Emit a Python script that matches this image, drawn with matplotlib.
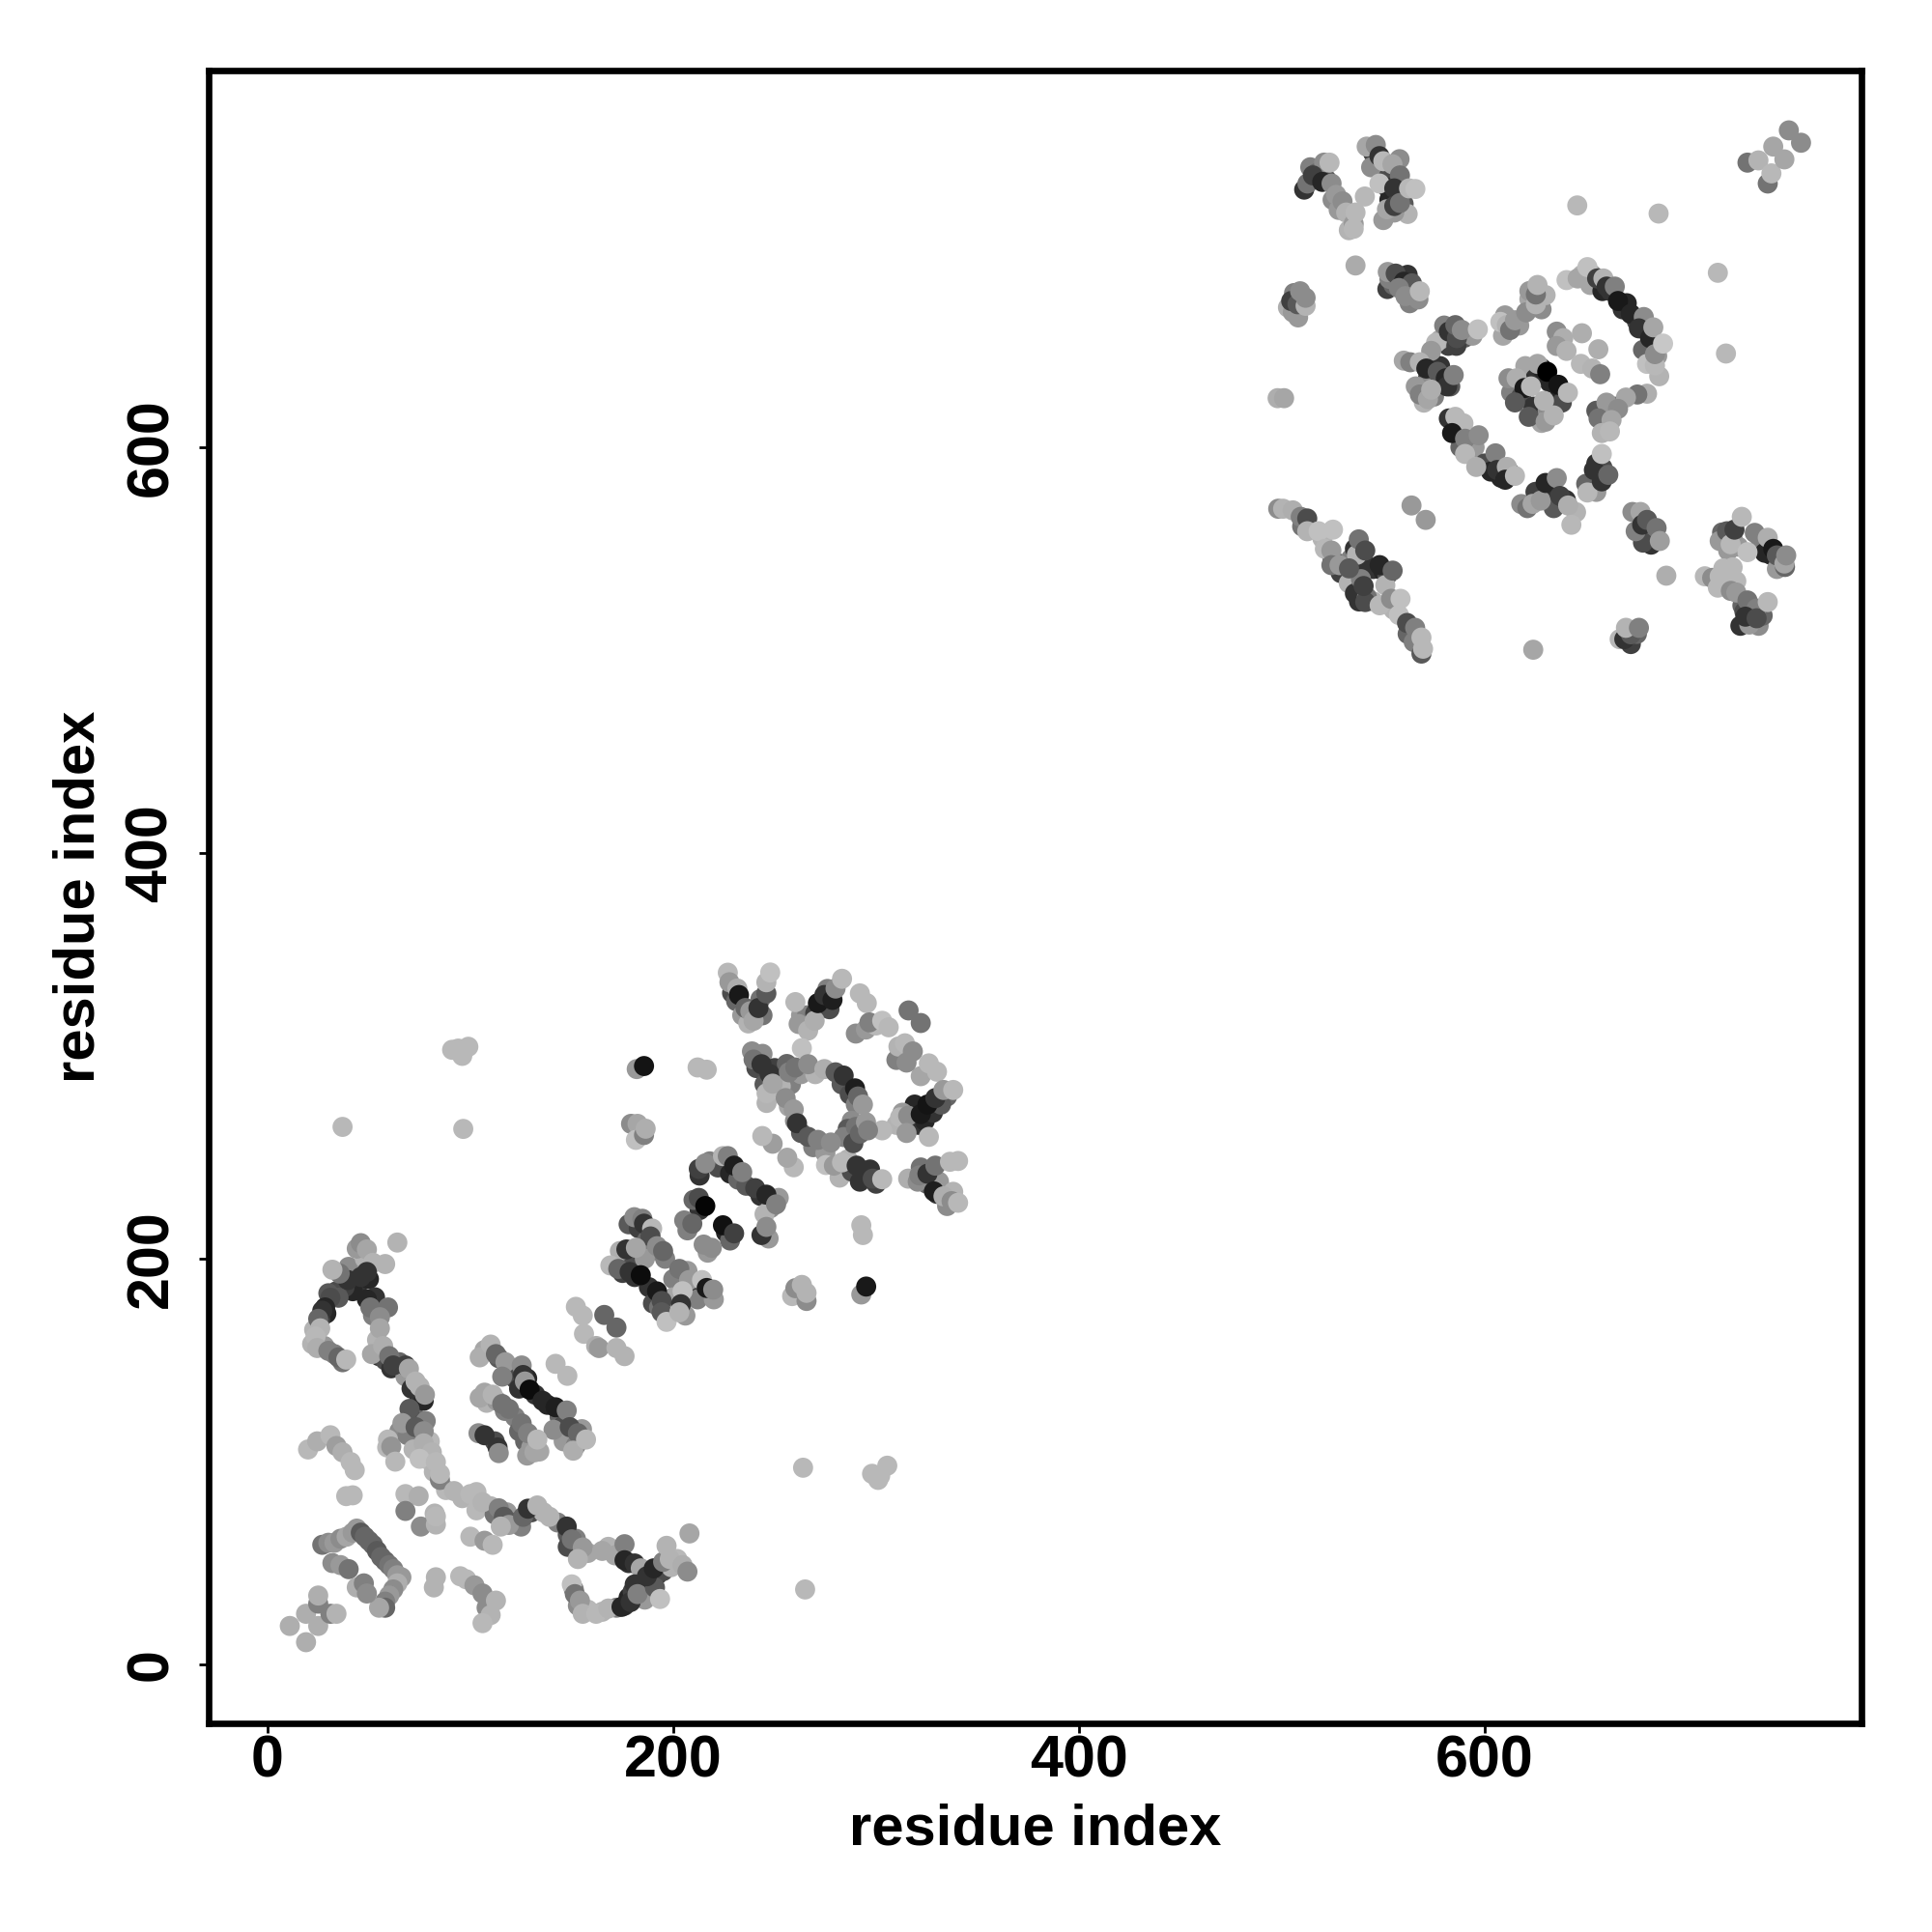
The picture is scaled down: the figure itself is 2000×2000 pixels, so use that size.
import numpy as np
import matplotlib
matplotlib.use("Agg")
import matplotlib.pyplot as plt

plt.rcParams['font.family'] = ['Liberation Sans', 'DejaVu Sans']

# contacts: (residue i, residue j, grey level)
# under_* = the dots mostly hidden below the visible ones
under_low = [(45,188,.2),(42,184,.15),(38,186,.25),(34,184,.3),(30,183,.35),(29,173,.15),(26,170,.25),(23,165,.7),
    (22,158,.7),(28,157,.6),(33,153,.5),(37,149,.45),(40,196,.55),(48,200,.7),(44,205,.6),(50,190,.15),(53,181,.2),
    (52,172,.5),(54,160,.7),(55,152,.2),(58,150,.3),(61,146,.2),(65,149,.4),(68,142,.6),(71,136,.2),(75,131,.2),
    (75,137,.7),(72,123,.4),(65,115,.55),(69,113,.5),(71,121,.3),(78,120,.5),(72,106,.7),(79,101,.72),(80,110,.72),
    (82,95,.7),(88,86,.72),(96,82,.7),(103,85,.72),(110,78,.7),(103,76,.72),(112,74,.45),(118,75,.6),(122,70,.4),
    (125,68,.5),(130,75,.3),(136,75,.7),(143,70,.5),(148,64,.35),(148,58,.3),(152,62,.5),(158,55,.65),(168,58,.7),
    (174,55,.6),(178,50,.2)]
under_loop = [(151,37,.5),(153,29,.55),(158,27,.72),(165,26,.7),(172,28,.5),(176,29,.2),(178,33,.15),(180,36,.25),
    (184,37,.3),(186,32,.6),(186,40,.3),(188,42,.15),(192,44,.2),(195,46,.3),(199,48,.7),(202,52,.72)]
under_sheet = [(107,155,.65),(114,151,.35),(119,146,.35),(122,141,.3),(124,136,.2),(128,141,.15),(132,133,.2),
    (138,128,.15),(144,122,.4),(146,118,.3),(151,112,.35),(148,111,.4),(155,116,.6),(146,110,.6),(152,108,.5),
    (107,134,.65),(108,129,.7),(113,130,.6),(117,125,.5),(122,122,.5),(124,115,.4),(127,110,.4),(130,107,.6),
    (134,105,.65),(128,103,.6),(112,110,.3)]
under_block = [(178,217,.35),(183,215,.25),(187,209,.4),(190,204,.5),(176,200,.4),(180,198,.3),(186,200,.6),(196,200,.5),
    (175,193,.25),(181,191,.2),(188,186,.2),(190,178,.3),(193,176,.45),(200,190,.5),(206,182,.6),(200,181,.65),
    (210,185,.2),(206,172,.6),(212,180,.5),(207,194,.6),(220,180,.6),(213,224,.2),(210,229,.4),(207,214,.5),
    (226,213,.15),(228,209,.4),(217,203,.6),(247,210,.6),(213,241,.2),(218,248,.5),(222,245,.3),(228,242,.15),
    (232,239,.4),(236,236,.35),(243,231,.2),(248,225,.55),(245,222,.7),(252,230,.6)]
under_ring = [(229,331,.3),(231,327,.4),(234,320,.6),(237,316,.7),(243,328,.45),(244,320,.45),(263,320,.6),(266,320,.5),
    (270,321,.25),(273,324,.15),(276,333,.5),(277,323,.3),(290,311,.55),(295,313,.6),(300,315,.72),(310,298,.5),
    (322,290,.65),(319,276,.15),(321,266,.2),(324,268,.15),(328,272,.2),(335,280,.4),(332,276,.35),(310,266,.7),
    (313,272,.6),(241,294,.3),(244,301,.55),(245,286,.35),(250,294,.25),(253,288,.55),(256,296,.4),(258,286,.5),
    (263,291,.6),(270,291,.7),(283,286,.35),(287,281,.3),(290,276,.5),(288,268,.55),(286,264,.35),(284,260,.5),
    (290,265,.45),(253,285,.7),(257,275,.65),(260,268,.55),(263,262,.35),(269,255,.5),(275,252,.6),(282,240,.7),
    (286,249,.7),(288,243,.3),(292,238,.2),(297,244,.2),(300,237,.25),(322,245,.45),(325,237,.4),(330,232,.2),
    (331,238,.6),(335,226,.55),(338,233,.7)]
under_high = [(511,727,.2),(514,738,.5),(517,735,.4),(522,732,.3),(525,722,.55),(528,717,.6),(533,707,.7),(545,745,.25),
    (550,735,.3),(552,728,.2),(553,722,.15),(550,712,.6),(560,720,.35),(562,715,.7),(544,738,.55),(558,742,.55),
    (552,678,.25),(555,680,.4),(562,685,.2),(565,676,.35),(563,671,.5),(553,683,.5),(506,676,.5),(508,664,.6),
    (510,672,.4),(575,641,.5),(572,634,.3),(578,632,.3),(570,630,.55),(566,630,.6),(575,625,.5),(570,622,.7),
    (578,640,.2),(583,630,.35),(582,650,.25),(578,653,.65),(590,654,.35),(580,660,.5),(586,650,.25),(594,655,.6),
    (609,655,.65),(617,660,.6),(622,673,.65),(628,668,.55),(630,675,.7),(622,677,.6),(610,665,.6),(648,685,.7),
    (653,685,.6),(652,680,.65),(658,677,.15),(662,677,.2),(668,668,.2),(670,671,.15),(675,662,.3),(680,660,.3),
    (682,649,.1),(685,645,.6),(678,648,.4),(686,635,.7),(620,640,.65),(625,634,.2),(632,632,.15),(628,639,.15),
    (637,626,.15),(613,627,.5),(618,625,.3),(624,620,.2),(631,618,.55),(628,612,.65),(638,622,.3)]
under_arc = [(595,600,.6),(600,592,.3),(603,588,.15),(608,585,.15),(612,588,.2),(618,572,.55),(621,570,.45),(625,578,.25),
    (632,580,.2),(634,570,.35),(640,574,.2),(645,568,.7),(655,592,.2),(658,590,.3),(650,582,.4),(655,578,.6),(660,611,.5),
    (655,618,.35),(664,620,.4),(660,622,.6),(587,606,.15),(585,610,.2),(588,600,.4),(510,561,.45),(520,555,.7),(525,545,.35),
    (529,538,.25),(533,533,.7),(534,545,.5),(536,550,.2),(540,544,.2),(537,547,.7),(545,540,.2),(550,539,.15),(552,537,.3),
    (536,528,.2),(538,524,.2),(539,535,.5),(545,524,.7),(551,532,.7),(555,520,.7),(562,508,.4),(565,504,.5),(672,503,.25),
    (675,508,.4),(677,566,.2),(679,558,.25),(683,556,.4),(682,552,.2),(678,553,.3),(717,558,.4),(720,549,.6),(722,555,.2),
    (725,551,.6),(736,552,.5),(738,548,.15),(741,547,.15),(745,543,.2),(744,540,.6),(748,541,.4),(724,534,.72),(727,522,.4),
    (732,518,.15),(731,516,.25),(735,512,.55),(726,512,.2),(728,519,.3),(737,517,.4)]

corner_low = [(11,19,.68),(19,11,.68),(19,25,.68),(25,19,.68),(25,30,.5),(25,34,.68),(31,25,.5),(34,25,.7)]
hairpin_low = [(27,59,.45),(30,60,.55),(33,60,.6),(36,62,.55),(39,63,.65),(42,65,.6),(44,67,.6),(46,65,.35),
    (48,63,.4),(50,61,.4),(52,59,.4),(54,56,.35),(56,53,.4),(58,51,.4),(60,49,.45),(62,47,.5),(64,44,.6),
    (66,43,.6),(64,40,.68),(62,37,.55),(60,34,.6),(58,31,.5),(58,28,.4),(55,28,.65),
    (32,50,.55),(36,49,.6),(40,47,.45),(44,38,.68),(47.5,40,.5),(49,35,.55)]
side_low = [(83,43,.7),(82,38,.7),(95,43.5,.72),(98,42,.72),(102,39,.6),(106,35,.55),(108,28,.55),
    (112.6,31.5,.7),(110,24.4,.7),(106,20.4,.72)]
hook_left = [(46,207.7,.55),(49,204.6,.65),(52,198,.7),(58,197.4,.7),(64,208,.7),(49,193.5,.2),(46,191,.2),
    (39.6,189.5,.2),(35.6,192.7,.45),(32,194.6,.7),(35,180.8,.35),(31,180.8,.3),(28.4,176,.15),(27,174.4,.2),
    (25,170.4,.4),(26,165.7,.7),(23.7,161.7,.72),(24.5,156,.68),(30,154.6,.5),(35,151.4,.4),(38.8,150.3,.72)]
long_strand = [(49,180,.15),(50.7,176,.45),(59.4,176,.45),(55.4,171.2,.55),(55.4,165.7,.65),(51.5,153,.65),
    (57,157,.68),(60,152,.45),(62,147.4,.25),(68,147.4,.25),(69.7,145.8,.65),(73,139.5,.7),(77,130,.15),
    (77.6,133,.6),(70,126,.35),(66.5,119,.6),(73,117,.35),(77,115,.55),(77,109,.68),(81,104.6,.7),
    (75,101.4,.75),(83,99.8,.72),(85,91,.5),(85,94,.72),(92,85.5,.7),(100,84,.72),(106,80,.7),(114,77,.5),
    (116.5,72.8,.35),(119,68.8,.6),(115,68,.7),(126,72.8,.4),(128.4,76.8,.2),(133,78.4,.7),(139,72.8,.7),
    (147.5,68,.2),(150,61.7,.45),(155.4,57.7,.6),(153,52,.7),(165,56,.65),(171.3,53.8,.65),(176,59.3,.5),
    (176,51.4,.15),(181,49.8,.2),(184,47.4,.65)]
light_bits = [(20,106,.72),(24.5,110,.68),(31,113,.72),(34,107.7,.62),(37,104.6,.68),(41,99.8,.72),(43,95.8,.72),
    (38.8,83,.72),(42,83.4,.72),(59.4,110.9,.72),(59,107,.72),(61,107.4,.58),(63,100,.72),(68,84,.72),
    (74.5,83,.68),(68,75.7,.5),(82.4,74.4,.7),(75.6,68,.55),(83,69,.7),(83,73,.72),(100,63,.72),(107,61,.6),
    (111,59,.72)]
loop_low = [(150,39.5,.75),(151.5,34.7,.45),(154,31.5,.6),(155.4,25,.7),(162,25,.72),(168,27.6,.7),(174.5,28.4,.15),
    (179,30.8,.2),(181,39.5,.2),(182.4,34.7,.5),(191,37.9,.35),(187,43.5,.2),(190.4,47.4,.15),(195,50.6,.5),
    (193.5,32.3,.75),(196.7,58.5,.7),(198.3,52,.7),(204.6,49,.68),(207,45.8,.55),(208,64.6,.65)]
sheet_a = [(104.6,151.4,.68),(110,157.7,.7),(112.6,153,.4),(117.3,149,.6),(125.3,147.4,.55),(115.7,141.9,.5),
    (126,142.7,.2),(126.9,139.5,.6),(129.2,135.5,.05),(135.6,130,.15),(142,126.8,.12),(147.5,125.2,.5),
    (141,115.7,.55),(149,117,.3),(153,114,.4),(150.7,105.4,.68),(157,110.9,.72)]
sheet_b = [(104.6,131.5,.65),(111,133,.7),(115.7,128.4,.45),(119,126,.45),(125.3,118.8,.45),(128.4,114,.5),
    (131.6,104.6,.65),(133,110.9,.72)]
sheet_c = [(104,114,.55),(107,113,.2),(113.4,107,.2),(114,104.2,.55),(142,148.2,.72),(147.8,142.3,.72)]
sheet_d = [(152,176.3,.72),(155.4,172,.72),(166,172.3,.4),(172,166.1,.4),(156,163,.72),(162,157,.68),
    (163.4,156,.6),(172,156,.7),(176,152,.7)]
block_mid = [(180.8,220.5,.55),(184.8,219.7,.5),(185.6,217.3,.2),(189.6,214.9,.72),(188.8,211,.3),(192,206.2,.55),
    (195,203.8,.4),(173.7,203.8,.68),(176.9,204.6,.2),(181.6,205.4,.65),(169,196.7,.72),(172.9,195,.4),
    (178.5,193.5,.2),(184,191.9,.05),(192,183.9,.1),(194.3,179.2,.3),(194.3,173.6,.35),(196.7,168.9,.75),
    (203,195,.45),(207.8,189.5,.6),(204.6,184,.75),(203.8,177.6,.2),(203,173.6,.7),(214.2,189.5,.75),
    (216.5,185.6,.1),(219.7,184.8,.55)]
block_dark = [(212.6,230,.3),(215.8,226,.02),(205.4,218.9,.5),(209.4,217.3,.4),(224.5,216.5,.07),(230,212.5,.25),
    (215,207,.55),(219,205.4,.55),(243.5,211.7,.2),(245.9,215.7,.55),(212.6,244.3,.25),(215.8,247,.55),
    (224.5,250.6,.7),(226.9,250.6,.5),(230,245.9,.12),(234,242.7,.5),(240.4,234.8,.25),(245.9,231.6,.15),
    (250.7,226.8,.5)]
scatter_mid = [(258.6,181.6,.72),(260.2,185.5,.55),(263.4,187.1,.7),(265.7,179.2,.55),(265.7,183.2,.7),
    (292.7,182.4,.6),(295.1,186.3,.1),(292.7,216.5,.72),(293.5,211.7,.72),(259.4,245.1,.72),(256.2,249.8,.65),
    (249,256.7,.62),(243.9,260.5,.72),(182,293.5,.6),(185.6,295,.08),(212,294.3,.72),(216.5,293.2,.72),
    (179.2,266.5,.55),(182.4,266.5,.65),(181.6,258.6,.75),(185.6,261,.5),(186.4,264.1,.68),
    (94,303.6,.72),(91,303,.72),(96,300,.72),(99,304.5,.72),(37,265,.72),(96.5,264,.72),(264,97,.72),(265,37,.72),
    (302,93,.72),(305.5,98,.72),(301,91,.72),(298,94,.72)]
vee_mid = [(226.9,341,.72),(227.7,336.3,.6),(231.6,333.2,.68),(232.4,330,.1),(235.6,323.6,.4),(238,322,.6),
    (239.6,317.3,.65),(242,323.6,.2),(245.9,330.8,.35),(245.9,336.3,.7),(247.8,341.1,.75)]
strand_mid = [(260.2,326.5,.72),(261.8,315.7,.6),(266.5,312.5,.7),(269.7,317.3,.68),(271.3,326,.1),(274.5,330,.2),
    (278.5,327.6,.12),(280,333.2,.55),(283.2,338,.72),(292,330.8,.72),(295.4,326,.72),(296.7,316.5,.5),
    (303,317.3,.75),(306.2,314.1,.72),(316,322.4,.45),(322,316.2,.45),(311,304.6,.7),(314.2,306.2,.72),
    (315,296.7,.55),(318.1,302.2,.55),(326,296.3,.72),(330,292.2,.72)]
arrow_mid = [(311.8,269.7,.72),(315.8,270.5,.55),(315,262,.6),(322,271.3,.1),(325.3,276,.08),(329.2,279.2,.2),
    (333.2,283.2,.6),(338,283.2,.72),(326,260.1,.72),(303,263.3,.72)]
ring_mid = [(238.8,302.2,.55),(239.6,298.2,.45),(243.5,295.9,.2),(247.5,291.1,.2),(246,276.8,.7),(246,281.6,.72),
    (249,286.3,.65),(257,291.9,.5),(260.2,294.3,.45),(263.4,303.8,.75),(266.5,295.9,.55),(274.5,293.5,.68),
    (280,291.9,.35),(284,290.3,.2),(289.6,284,.12),(291.1,280,.4),(293.5,276,.6),(288.8,257,.3),(292,261.7,.4),
    (295,267.3,.6),(296,263.3,.5),(255.4,279.2,.55),(259.4,273.6,.6),(261,266.8,.2),(266.5,260.1,.35),
    (271.3,258.6,.5),(277.7,257.3,.55)]
foot_mid = [(275.3,246.2,.75),(279.2,245.9,.6),(283.2,247.5,.72),(290.4,245.9,.2),(295.1,241.9,.2),(298.3,239.5,.3),
    (303,239.2,.72),(315.8,239.5,.68),(320.5,238,.55),(321.3,241.1,.5),(325.3,241.9,.2),(329.2,245.9,.45),
    (336.4,247.8,.72),(340.4,248.2,.72),(328.5,233.2,.12),(333.2,230.8,.68),(337.2,228.4,.55),(340.4,227.6,.72)]
top_left = [(520.8,740.3,.55),(523.5,740.3,.72),(512.6,730,.45),(515.3,734,.25),(519.9,730.8,.15),(524.5,730,.55),
    (526.8,724.4,.6),(529.9,721.2,.55),(531.7,715.7,.7),(535.4,710.1,.6),(535.4,707.7,.72),(536.3,715.7,.72),
    (540.9,723.6,.72)]
top_vee = [(541.8,748.2,.65),(546.3,749,.55),(548.1,743.5,.2),(550,741,.72),(554.5,739.5,.65),(548.1,730,.75),
    (558.2,734,.45),(555.4,727.6,.2),(555.4,715.7,.6),(551.8,717.3,.65),(555.4,718.9,.25),(558.2,720.4,.45),
    (562.7,727.6,.72),(565.8,727.3,.75)]
top_right = [(729.5,740.3,.45),(734.9,741.4,.7),(739.5,730,.45),(741.3,735,.72),(742.2,748.2,.65),(747.7,741.9,.65),
    (749.9,756.2,.55),(755.9,750.1,.55)]
lone_high = [(645.6,719.2,.72),(685.7,715.2,.72),(714.9,686,.72),(718.9,646.2,.72),(536.3,689.6,.67),
    (497.9,624.2,.68),(501.1,624.2,.65),(647.9,656.2,.68),(656,648.3,.68),(563.9,571.3,.6),(570.9,564.2,.6),
    (623.9,500.2,.65),(689.5,536.7,.68)]
block_high = [(503,668.9,.68),(505.4,666.5,.6),(504.6,672.1,.25),(507.7,670.5,.35),(511.7,669.7,.7),(509,676.9,.55),
    (511.7,673.7,.55),(552.2,686.4,.6),(556.1,685.6,.3),(560.1,681.6,.15),(564.1,680.8,.35),(557.7,678.5,.5),
    (560.9,674.5,.55),(567.3,672.9,.55),(568,676.9,.72)]
ring_high = [(576,651.5,.72),(573.6,647.5,.6),(582.3,657,.2),(586.3,653.8,.3),(585.5,660.2,.4),(588.7,657.8,.55),
    (596.6,658.1,.75),(560.1,642.7,.65),(563.3,641.9,.5),(568,641.9,.7),(571.2,638.8,.15),(576.8,637.2,.35),
    (580.8,634,.15),(581.5,630,.2),(584.7,635.6,.5),(568,626,.5),(572,623.7,.65),(573.6,628.4,.68),
    (607.7,661.8,.75),(610.9,660.2,.7),(612.5,657.8,.45),(614.9,662.6,.6),(620.4,666.5,.55),(625.2,670.5,.7),
    (625.2,675.3,.45),(626,680,.7),(640.3,682.4,.75),(645.8,683.2,.65),(650.6,688.8,.75),(655.4,683.2,.25),
    (658.5,683.2,.7),(660.1,679.2,.2),(664.1,679.2,.5),(665.7,672.1,.1),(672,665.7,.15),(678.4,664.2,.55),
    (676,658.6,.2),(681.5,653.8,.15),(683.1,659.1,.65),(680,641.1,.75),(683.9,640.3,.72),(683.9,645.9,.55),
    (687.9,651.1,.78)]
centre_high = [(635.5,657,.55),(638.7,653.8,.68),(635.5,649.9,.6),(640.3,647.5,.7),(647.4,641.1,.72),(653,638.8,.7),
    (656.9,636,.5),(626,641.1,.65),(630.8,637.2,.0),(636.3,630.8,.08),(641,626.9,.72),(611.7,634,.55),
    (615.7,634,.68),(619.6,629.2,.1),(622.8,630,.72),(614.9,622.1,.35),(621.7,615,.35),(629.2,622.9,.7),
    (630,612.6,.6),(634,615.7,.7)]
arc_high = [(680,626.4,.68),(675.2,626,.45),(669.6,624.5,.65),(665.7,618.9,.55),(656.1,614.2,.45),(662.5,613.4,.65),
    (657.7,607,.7),(661.7,607.8,.72),(582.3,614.2,.2),(585.5,615,.72),(589.5,611.8,.72),(583.9,607,.1),
    (590.3,604.2,.5),(597,605.9,.55),(590.3,596.7,.72),(595.8,590.3,.68),(605.3,597,.5),(606.1,588.8,.2),
    (610.9,590.3,.68),(610.1,584,.15),(614.9,585.9,.72),(623.6,572.1,.65),(627.6,573.7,.6),(630,582.4,.15),
    (635.5,584.8,.55),(637.1,576,.25),(641.1,571.3,.68),(642.7,561.8,.72),(650.6,577.7,.72),(657.7,583.2,.2),
    (653.8,588.8,.2),(660.9,586.4,.4),(657.7,596.7,.75)]
diag_high = [(498.2,569.7,.55),(500.6,569.7,.7),(505.4,568.9,.68),(509.3,565.7,.5),(512.5,564.9,.3),(512.5,558.6,.7),
    (518.1,558.6,.75),(525.2,559.4,.75),(521.2,549.9,.72),(524.4,549.1,.6),(524.4,541.9,.45),(528.4,541.9,.6),
    (537.9,554.6,.45),(541.1,549.1,.3),(533.1,540.3,.35),(548.2,541.9,.15),(554.6,539.2,.4),(541.9,526.1,.45),
    (541.1,523.7,.3),(540.3,531.6,.25),(548.2,522.1,.72),(553.8,525.3,.55),(558.5,525.3,.75),(557.7,517.3,.75),
    (561.7,513.4,.3),(565.7,511,.5),(568.8,498.3,.35),(568.8,506.2,.72),(569.6,500.7,.72)]
low_right = [(666.5,505.4,.72),(668.8,505.4,.2),(672,507.8,.35),(669.6,511,.7),(676,511,.5),(672.8,568.1,.55),
    (676.8,568.1,.65),(674.4,558.6,.5),(677.6,561.8,.2),(680,564.2,.35),(684.7,560.2,.45),(686.3,553.8,.62)]
corner_high = [(715.8,553.8,.6),(719.4,558.6,.35),(721.2,552.2,.72),(723.1,559.4,.25),(726.7,565.7,.72),(733.1,557.8,.5),
    (729.5,548.3,.75),(739.5,555.4,.68),(742.2,549.9,.1),(744,546.7,.35),(747.7,542.7,.65),(748.6,546.7,.55),
    (708.5,536.4,.72),(712.1,535.6,.55),(715.8,536.4,.72),(717.6,540.3,.72),(722.2,540.8,.72),(714.9,530.8,.72),
    (721.3,529.2,.55),(724,528.4,.6),(729.5,524.5,.45),(734,520.5,.5),(730.4,512.6,.6),(728.5,516.5,.2),
    (734,515.7,.3),(739.5,523.7,.72)]

clusters = [under_low, under_loop, under_sheet, under_block, under_ring, under_high, under_arc,
            corner_low, hairpin_low, side_low, hook_left, long_strand, light_bits, loop_low, sheet_a, sheet_b,
            sheet_c, sheet_d, block_mid, block_dark, scatter_mid, vee_mid, strand_mid, arrow_mid, ring_mid,
            foot_mid, top_left, top_vee, top_right, lone_high, block_high, ring_high, centre_high, arc_high,
            diag_high, low_right, corner_high]

ticks = [0, 200, 400, 600]

fig = plt.figure(figsize=(10, 10), dpi=200)
ax = fig.add_axes([216 / 2000, 216 / 2000, 1711 / 2000, 1711 / 2000])

for c in clusters:
    pts = np.array(c)
    ax.scatter(pts[:, 0], pts[:, 1], c=pts[:, 2], cmap='gray', vmin=0, vmax=1, s=56, linewidths=0, zorder=2)

ax.set_xlim(-29, 785.7)
ax.set_ylim(-29, 785.7)
ax.set_xticks(ticks)
ax.set_yticks(ticks)
ax.tick_params(axis='x', length=3.5, width=1.0, pad=0.5, labelsize=22)
ax.tick_params(axis='y', length=3.5, width=1.0, pad=7.3, labelsize=22)
for lab in ax.get_xticklabels() + ax.get_yticklabels():
    lab.set_fontweight('bold')
for lab in ax.get_yticklabels():
    lab.set_rotation(90)
    lab.set_va('center')
for s in ax.spines.values():
    s.set_linewidth(2.4)

ax.set_xlabel('residue index', fontsize=21.5, fontweight='bold', labelpad=5.3)
ax.set_ylabel('residue index', fontsize=21.5, fontweight='bold', labelpad=7)

fig.savefig('out.png', dpi=200)
